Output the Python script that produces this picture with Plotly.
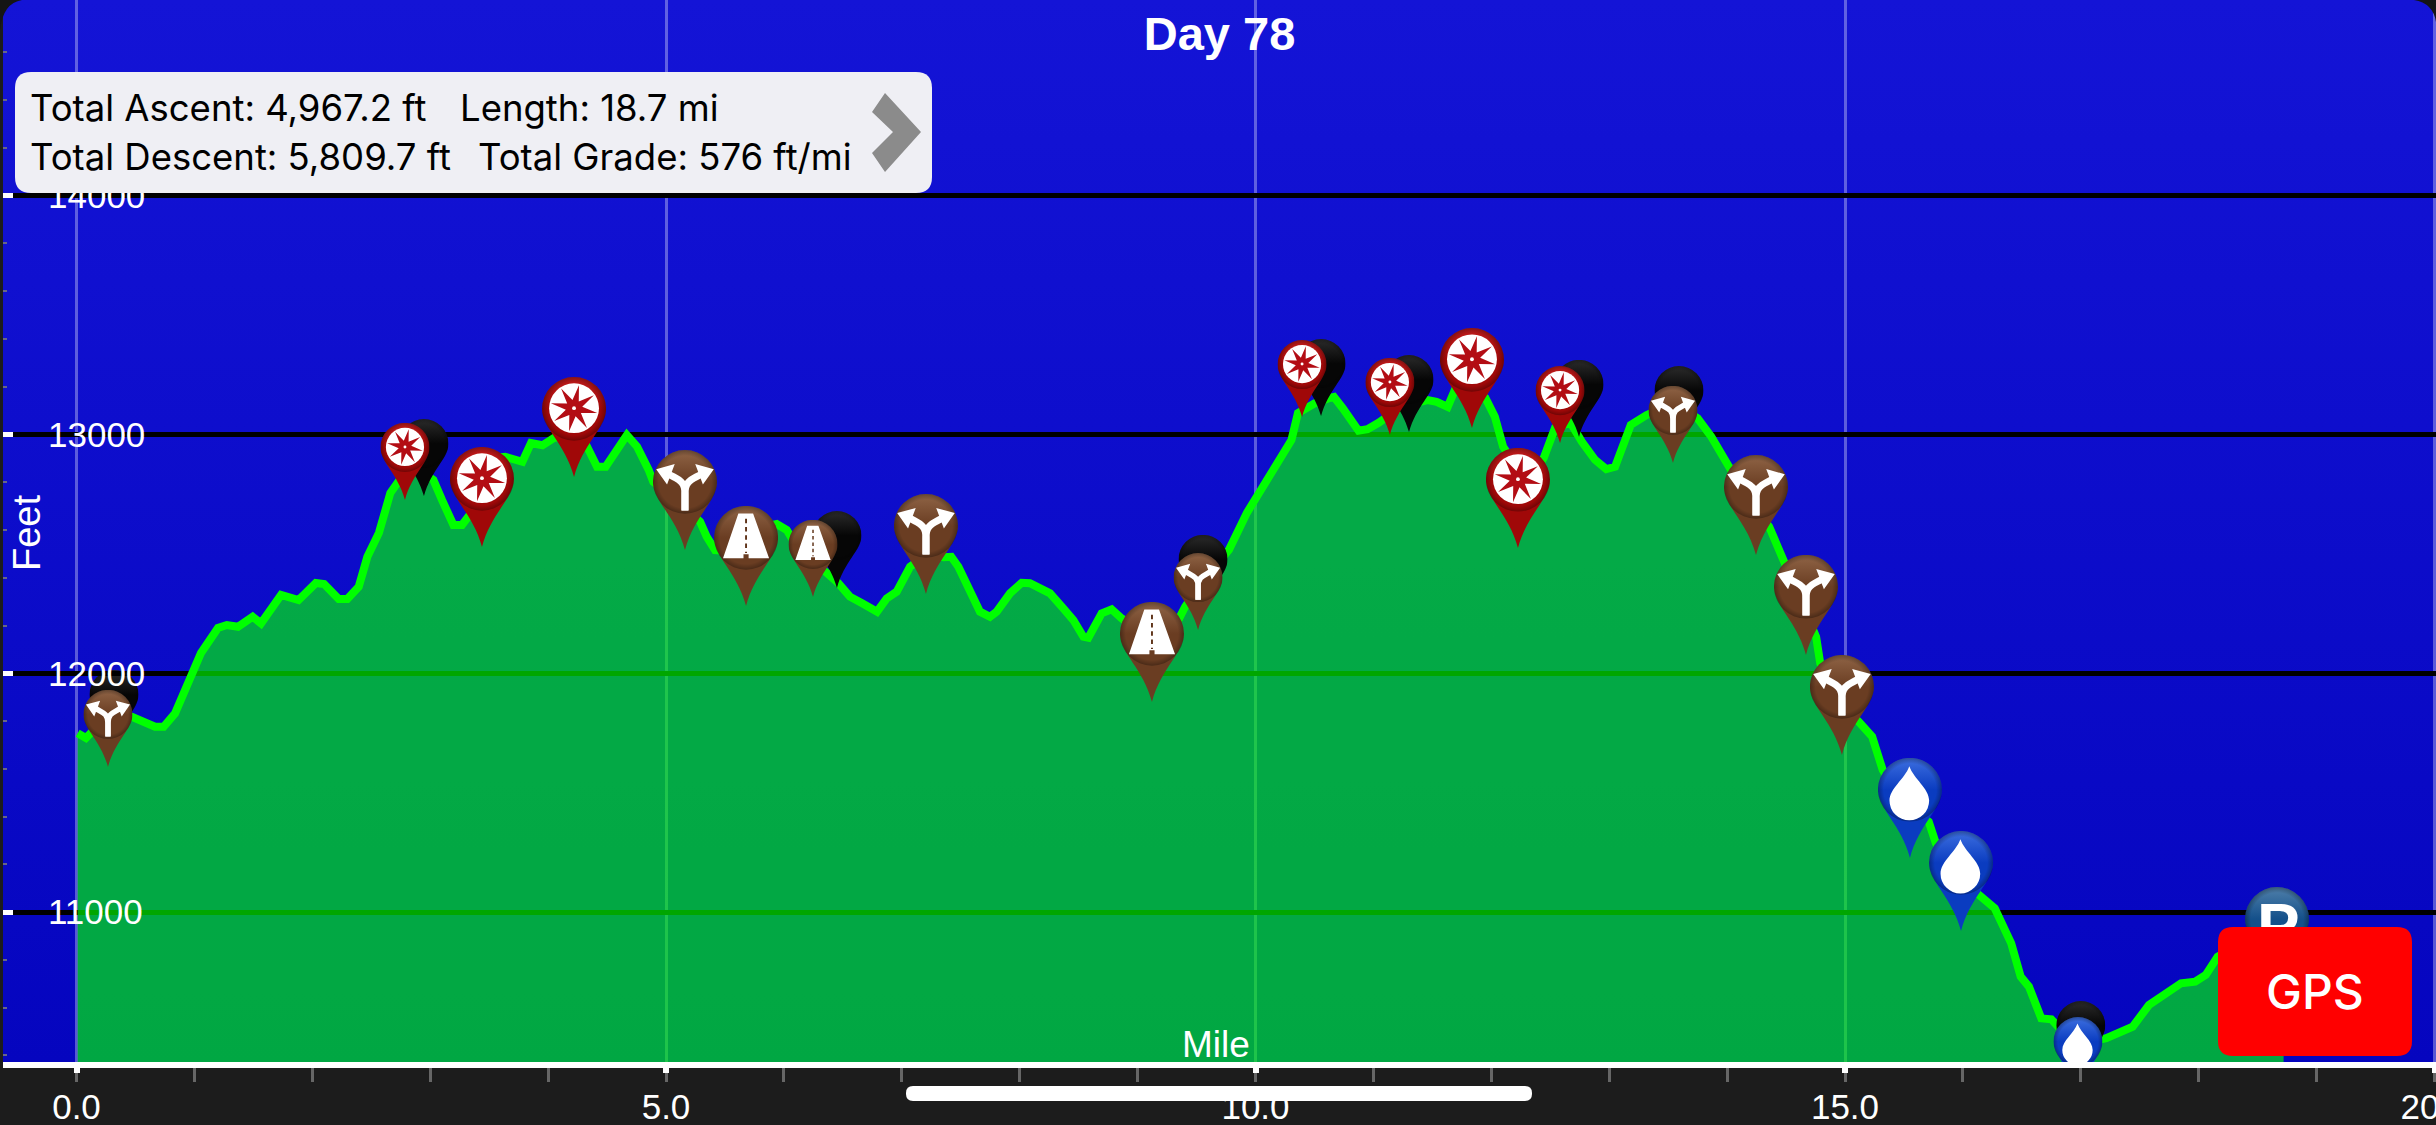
import base64
import math
import plotly.graph_objects as go

# ---------- data ----------
chart_title = "Day 78"
y_title = "Feet"
x_title = "Mile"
x_major_ticks = [0, 5, 10, 15, 20]
y_major_ticks = [11000, 12000, 13000, 14000]

mile = [0.01, 0.08, 0.30, 0.47, 0.666, 0.739, 0.836, 0.958, 1.056, 1.20, 1.275, 1.37, 1.494, 1.565, 1.735,
        1.883, 2.03, 2.10, 2.224, 2.297, 2.394, 2.467, 2.565, 2.662, 2.759, 2.905, 3.027, 3.10, 3.197, 3.27,
        3.344, 3.54, 3.635, 3.782, 3.855, 3.952, 4.05, 4.17, 4.317, 4.415, 4.488, 4.668, 4.755, 4.853, 4.892,
        5.10, 5.289, 5.345, 5.416, 5.60, 5.80, 5.939, 6.024, 6.066, 6.25, 6.461, 6.56, 6.66, 6.79, 6.872,
        6.957, 7.07, 7.22, 7.353, 7.42, 7.48, 7.565, 7.663, 7.748, 7.805, 7.918, 8.017, 8.087, 8.257, 8.37,
        8.455, 8.54, 8.582, 8.695, 8.78, 8.865, 9.10, 9.345, 9.403, 9.55, 9.775, 9.927, 10.097, 10.21, 10.305,
        10.36, 10.50, 10.628, 10.666, 10.74, 10.874, 10.95, 11.044, 11.25, 11.46, 11.536, 11.63, 11.69, 11.85,
        11.95, 12.03, 12.10, 12.30, 12.445, 12.54, 12.672, 12.767, 12.88, 12.975, 13.05, 13.183, 13.315, 13.54,
        13.75, 13.866, 14.016, 14.20, 14.357, 14.43, 14.49, 14.62, 14.755, 14.79, 14.95, 15.117, 15.23, 15.32,
        15.50, 15.71, 15.77, 15.95, 16.13, 16.27, 16.41, 16.49, 16.56, 16.665, 16.75, 16.82, 16.95, 17.10,
        17.216, 17.44, 17.578, 17.715, 17.85, 17.97, 18.06, 18.16, 18.40, 18.72]
feet = [11749, 11729, 11840, 11818, 11776, 11776, 11832, 11972, 12085, 12190, 12202, 12195, 12237, 12209, 12328,
        12307, 12378, 12374, 12311, 12311, 12363, 12488, 12588, 12755, 12823, 12851, 12810, 12726, 12621, 12621,
        12670, 12902, 12907, 12886, 12964, 12955, 12986, 12990, 12963, 12865, 12865, 12998, 12949, 12852, 12802,
        12720, 12635, 12572, 12516, 12510, 12610, 12625, 12600, 12566, 12470, 12378, 12321, 12294, 12258, 12314,
        12342, 12446, 12500, 12486, 12488, 12446, 12349, 12258, 12237, 12258, 12335, 12379, 12377, 12335, 12272,
        12223, 12153, 12149, 12251, 12268, 12230, 12150, 12223, 12279, 12385, 12517, 12672, 12810, 12894, 12977,
        13090, 13130, 13153, 13157, 13110, 13016, 13022, 13049, 13120, 13144, 13137, 13116, 13186, 13190,
        13153, 13075, 12949, 12800, 12902, 13027, 13049, 12970, 12894, 12855, 12865, 13040, 13081, 13132,
        13068, 12991, 12865, 12720, 12614, 12526, 12461, 12310, 12153, 12042, 11880, 11797, 11735, 11595,
        11460, 11379, 11289, 11150, 11072, 11016, 10869, 10730, 10688, 10555, 10551, 10514, 10470, 10460,
        10472, 10520, 10611, 10653, 10702, 10709, 10737, 10813, 10880, 10930]

pin_kind = ["black", "fork", "black", "red", "red", "red", "fork", "road", "black", "road", "fork", "road",
            "black", "fork", "black", "red", "black", "red", "red", "red", "black", "red", "black", "fork",
            "fork", "fork", "fork", "water", "water", "black", "water", "park"]
pin_big = [0, 0, 0, 0, 1, 1, 1, 1, 0, 0, 1, 1,
           0, 0, 0, 0, 0, 0, 1, 1, 0, 0, 0, 0,
           1, 1, 1, 1, 1, 0, 0, 1]
pin_mile = [0.318, 0.267, 2.947, 2.786, 3.439, 4.220, 5.161, 5.679, 6.450, 6.247, 7.205, 9.122,
            9.555, 9.513, 10.556, 10.395, 11.302, 11.140, 11.836, 12.226, 12.744, 12.583, 13.592, 13.541,
            14.245, 14.669, 14.974, 15.551, 15.984, 17.000, 16.976, 18.664]
pin_feet = [11691, 11608, 12742, 12726, 12529, 12822, 12516, 12282, 12357, 12320, 12332, 11880,
            12257, 12181, 13077, 13073, 13010, 12998, 13027, 12525, 12990, 12964, 12964, 12881,
            12495, 12077, 11658, 11227, 10921, 10305, 10238, 10686]

# ---------- frame geometry and style ----------
W, H = 2436, 1125
PLOT_L, PLOT_B = 3, 1062
PX_PER_MILE = 117.9
PX_PER_FOOT = 0.2388
X_RANGE = [-0.6234, 20.0127]
Y_RANGE = [10372.3, 14819.5]
PIN_SIZES = {1: (64, 100), 0: (49, 77)}
FONT = "Liberation Sans, Arial, sans-serif"
UI_FONT = "Inter, Liberation Sans, sans-serif"


def px(x):
    return (x - PLOT_L) / (W - PLOT_L)


def py(y):
    return 1 - y / PLOT_B


def round_rect(x0, y0, x1, y1, r):
    return (f"M {px(x0+r)} {py(y0)} L {px(x1-r)} {py(y0)} Q {px(x1)} {py(y0)} {px(x1)} {py(y0+r)} "
            f"L {px(x1)} {py(y1-r)} Q {px(x1)} {py(y1)} {px(x1-r)} {py(y1)} "
            f"L {px(x0+r)} {py(y1)} Q {px(x0)} {py(y1)} {px(x0)} {py(y1-r)} "
            f"L {px(x0)} {py(y0+r)} Q {px(x0)} {py(y0)} {px(x0+r)} {py(y0)} Z")


def poly(points):
    return "M " + " L ".join(f"{px(a)} {py(b)}" for a, b in points) + " Z"


# ---------- pin artwork ----------
PIN_PATH = "M50 0A50 50 0 0 1 100 50C100 80 64 104 50 157C36 104 0 80 0 50A50 50 0 0 1 50 0Z"
FORK = ('<g fill="none" stroke="#fff" stroke-width="11"><path d="M50 95V68C50 46 36 46 22 36"/>'
        '<path d="M50 95V68C50 46 64 46 78 36"/></g>'
        '<path fill="#fff" d="M5 30L34 22L22 54ZM95 30L66 22L78 54Z"/>')
ROAD = ('<path fill="#fff" d="M38 12H61L86 82H54V76H46V82H14Z"/>'
        '<path stroke="{dash}" stroke-width="3" stroke-dasharray="7 6" d="M50 20V74"/>')
DROP = '<path fill="#fff" d="M49 13C56 33 80 48 80 67A31 31 0 0 1 18 67C18 48 42 33 49 13Z"/>'
PARK = ('<text x="52" y="94" text-anchor="middle" font-family="Liberation Sans" font-weight="bold" '
        'font-size="100" fill="#fff">P</text>')


def compass():
    pts = []
    for k in range(16):
        a = math.radians(k * 22.5 - 78)
        r = 37 if k % 2 == 0 else 13
        pts.append(f"{50 + r * math.cos(a):.1f} {49 + r * math.sin(a):.1f}")
    return ('<circle cx="50" cy="49" r="39" fill="#fff"/>'
            f'<path fill="#b30d14" d="M{"L".join(pts)}Z"/>'
            '<circle cx="50" cy="49" r="3" fill="#fff"/>')


PIN_STYLE = {
    "black": ("#2b2b2b", "#060606", ""),
    "fork": ("#8f6446", "#6a3d22", FORK),
    "road": ("#8f6446", "#6a3d22", ROAD.format(dash="#5f3319")),
    "red": ("#c01c1c", "#a00808", compass()),
    "water": ("#3d6fe0", "#0a3cc0", DROP),
    "park": ("#4f7faa", "#14508a", PARK),
}


def pin_uri(kind):
    top, bottom, icon = PIN_STYLE[kind]
    svg = (f'<svg xmlns="http://www.w3.org/2000/svg" viewBox="0 0 100 157" preserveAspectRatio="none">'
           f'<defs><linearGradient id="b" x1="0" y1="0" x2="0" y2="1"><stop offset="0" stop-color="{top}"/>'
           f'<stop offset="0.32" stop-color="{bottom}"/><stop offset="1" stop-color="{bottom}"/></linearGradient>'
           '<radialGradient id="e" gradientUnits="userSpaceOnUse" cx="50" cy="50" r="50">'
           '<stop offset="0.82" stop-color="#000" stop-opacity="0"/>'
           '<stop offset="1" stop-color="#000" stop-opacity="0.3"/></radialGradient></defs>'
           f'<path d="{PIN_PATH}" fill="url(#b)"/><circle cx="50" cy="50" r="50" fill="url(#e)"/>{icon}</svg>')
    return "data:image/svg+xml;base64," + base64.b64encode(svg.encode()).decode()


BG_SVG = ('<svg xmlns="http://www.w3.org/2000/svg" viewBox="0 0 10 10" preserveAspectRatio="none">'
          '<defs><linearGradient id="g" x1="0" y1="0" x2="0" y2="1"><stop offset="0" stop-color="#1414d6"/>'
          '<stop offset="1" stop-color="#0505bf"/></linearGradient></defs>'
          '<rect width="10" height="10" fill="url(#g)"/></svg>')
images = [dict(source="data:image/svg+xml;base64," + base64.b64encode(BG_SVG.encode()).decode(),
               xref="paper", yref="paper", x=0, y=1, sizex=1, sizey=1, sizing="stretch",
               xanchor="left", yanchor="top", layer="below")]
for i, (k, big, m, f) in enumerate(zip(pin_kind, pin_big, pin_mile, pin_feet)):
    w, h = PIN_SIZES[big]
    images.append(dict(source=pin_uri(k), xref="x", yref="y", x=m, y=f,
                       sizex=w / PX_PER_MILE, sizey=h / PX_PER_FOOT, sizing="stretch",
                       xanchor="center", yanchor="bottom",
                       layer="below" if i == 0 else "above"))

# ---------- figure ----------
fig = go.Figure()
fig.add_trace(go.Scatter(x=mile, y=feet, mode="lines", fill="tozeroy",
                         fillcolor="rgba(0,255,0,0.65)",
                         line=dict(color="#00ff00", width=8), hoverinfo="skip", showlegend=False))
fig.add_trace(go.Scatter(x=[mile[0], mile[-1]], y=[Y_RANGE[0] - 8, Y_RANGE[0] - 8], mode="lines",
                         line=dict(color="#74ff74", width=4), cliponaxis=False,
                         hoverinfo="skip", showlegend=False))

shapes = [
    dict(type="path", path=round_rect(15, 72, 932, 193, 16), fillcolor="#efeff4", line_width=0, xref="paper", yref="paper"),
    dict(type="path", path=poly([(872, 112), (885, 93), (921, 132), (885, 172), (872, 153), (893, 132)]),
         fillcolor="#8b8b8b", line_width=0, xref="paper", yref="paper"),
    dict(type="path", path=round_rect(2218, 927, 2412, 1056, 15), fillcolor="#ff0000", line_width=0, xref="paper", yref="paper"),
    dict(type="path", path=round_rect(906, 1086, 1532, 1101, 7), fillcolor="#ffffff", line_width=0, xref="paper", yref="paper"),
    dict(type="path", path=f"M {px(0)} {py(0)} L {px(22)} {py(0)} Q {px(3)} {py(3)} {px(0)} {py(30)} Z",
         fillcolor="#151515", line_width=0, xref="paper", yref="paper"),
    dict(type="path", path=f"M {px(2436)} {py(0)} L {px(2414)} {py(0)} Q {px(2433)} {py(3)} {px(2436)} {py(22)} Z",
         fillcolor="#151515", line_width=0, xref="paper", yref="paper"),
]


def note(text, x, y, size, color="#ffffff", anchor="center", family=FONT, angle=0, weight=400):
    return dict(text=text, xref="paper", yref="paper", x=px(x), y=py(y), xanchor=anchor, yanchor="middle",
                showarrow=False, font=dict(size=size, color=color, family=family, weight=weight), textangle=angle)


annotations = [
    note(y_title, 27, 533, 38, angle=-90),
    note(x_title, 1216, 1044, 37),
    note("Total Ascent: 4,967.2 ft", 28, 108, 36.5, "#000000", "left", UI_FONT),
    note("Length: 18.7 mi", 458, 108, 36.5, "#000000", "left", UI_FONT),
    note("Total Descent: 5,809.7 ft", 28, 157, 36.5, "#000000", "left", UI_FONT),
    note("Total Grade: 576 ft/mi", 476, 157, 36.5, "#000000", "left", UI_FONT),
    note("GPS", 2315, 991, 48, family=UI_FONT, weight=500),
]

fig.update_layout(
    width=W, height=H, margin=dict(l=PLOT_L, r=0, t=0, b=H - PLOT_B, pad=0, autoexpand=False),
    paper_bgcolor="#1c1c1c", plot_bgcolor="#0a0acc", showlegend=False,
    title=dict(text=f"<b>{chart_title}</b>", x=0.5, xref="paper", xanchor="center", y=1 - 34 / H, yanchor="middle",
               font=dict(size=47, color="#ffffff", family=FONT)),
    images=images, shapes=shapes, annotations=annotations,
    xaxis=dict(range=X_RANGE, tickvals=x_major_ticks, tickformat=".1f", showgrid=True, automargin=False,
               gridcolor="rgba(255,255,255,0.33)", gridwidth=3, zeroline=False,
               showline=True, linecolor="#ffffff", linewidth=6, layer="below traces",
               ticks="outside", ticklen=5, tickwidth=6, tickcolor="#ffffff",
               ticklabeloverflow="allow", ticklabelstandoff=4,
               tickfont=dict(size=35, color="#ffffff", family=FONT),
               minor=dict(dtick=1, ticks="outside", ticklen=14, tickwidth=3, tickcolor="#666666", showgrid=False)),
    yaxis=dict(range=Y_RANGE, tickvals=y_major_ticks, tickformat="d", showgrid=True, automargin=False,
               gridcolor="#000000", gridwidth=5, zeroline=False, showline=False,
               ticks="inside", ticklen=10, tickwidth=5, tickcolor="#ffffff",
               ticklabelposition="inside", ticklabeloverflow="allow", ticklabelstandoff=39,
               tickfont=dict(size=35, color="#ffffff", family=FONT),
               minor=dict(dtick=200, ticks="inside", ticklen=4, tickwidth=2, tickcolor="#666688", showgrid=False)),
)

fig.write_html("out.html", config=dict(displayModeBar=False),
               post_script="document.body.style.margin='0';document.body.style.overflow='hidden';")
